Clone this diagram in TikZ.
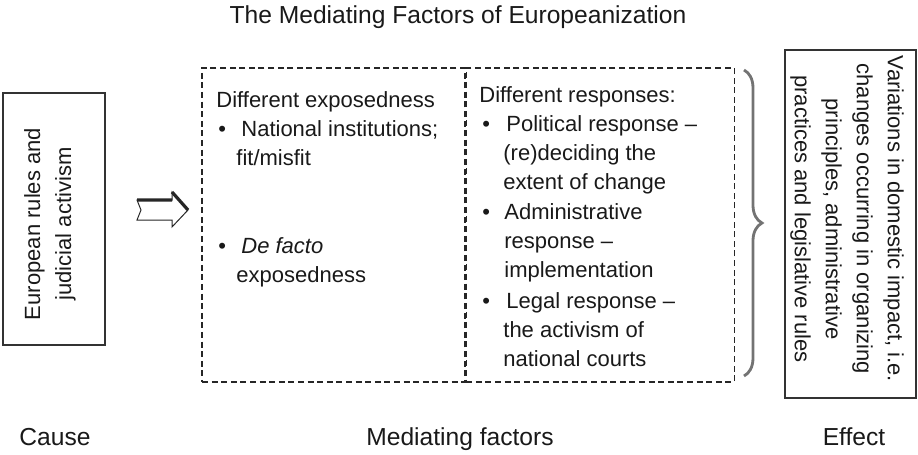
\documentclass[tikz,border=0pt]{standalone}
\usepackage{fontspec}
\setmainfont{Liberation Sans}
\usepackage{tikz}
\usetikzlibrary{positioning}
\usetikzlibrary{decorations.pathreplacing}

\tikzset{
  txt/.style={inner sep=0pt, align=left, text=black!90, font=\fontsize{11}{14.5}\selectfont},
  lbl/.style={inner sep=0pt, text=black!90, font=\fontsize{12.3}{14.5}\selectfont},
  solidbox/.style={draw=black!80, line width=0.6pt, inner sep=0pt},
  boxtxt/.style={align=center, inner sep=0pt, text=black!90, font=\fontsize{11}{15.5}\selectfont},
  panel/.style={draw=black!85, dash pattern=on 3pt off 1.8pt, line width=0.6pt, inner sep=0pt,
    minimum height=157pt},
  curly/.style={decorate, decoration={brace, amplitude=9pt}, draw=black!55, line width=1.4pt},
}

\begin{document}
\begin{tikzpicture}[x=0.5pt, y=-0.5pt]
\useasboundingbox (0,0) rectangle (918,455);

\node[lbl, anchor=base] (title) at (458,24) {The Mediating Factors of Europeanization};

% cause
\node[solidbox, minimum width=51pt, minimum height=126pt] (cause) at (54,219) {};
\node[boxtxt, rotate=90] (causetxt) at (50,224) {European rules and\\judicial activism};

% block arrow
\draw[fill=white, draw=black!85, line width=0.5pt] (137,200) -- (172,200) -- (172,192) -- (188,210)
  -- (172,227) -- (172,220) -- (137,220) -- (141,210) -- cycle;
\draw[black!85, line width=1.6pt] (137,200) -- (172,200) (172,192) -- (188,210);

% mediating factors
\node[panel, minimum width=131.5pt] (expo) at (333.5,225) {};
\node[panel, minimum width=134pt, right=0pt of expo] (resp) {};

\node[txt, anchor=base west] (expohead) at (216,107) {Different exposedness};
\node[txt, anchor=base west] (dot1) at (218,136) {•};
\node[txt, anchor=base west] (inst) at (241,165) {National institutions;\\\kern-2.5pt fit/misfit};
\node[txt, anchor=base west] (dot2) at (218,253) {•};
\node[txt, anchor=base west] (defacto) at (241,282) {\textit{De facto}\\\kern-2.5pt exposedness};

\node[txt, anchor=base west] (resphead) at (479,103) {Different responses:};
\node[txt, anchor=base west] (dot3) at (482,132) {•};
\node[txt, anchor=base west] (polit) at (506,190) {Political response --\\\kern-1.5pt (re)deciding the\\\kern-1.5pt extent of change};
\node[txt, anchor=base west] (dot4) at (482,220) {•};
\node[txt, anchor=base west] (admin) at (504,278) {Administrative\\response --\\implementation};
\node[txt, anchor=base west] (dot5) at (482,308) {•};
\node[txt, anchor=base west] (legal) at (506,366) {Legal response --\\\kern-1.5pt the activism of\\\kern-1.5pt national courts};

% brace
\coordinate (btop) at (744,70);
\coordinate (bbot) at (744,376);
\draw[curly] (btop) -- (bbot);

% effect
\node[solidbox, minimum width=65.5pt, minimum height=174pt] (effect) at (850.5,224) {};
\node[boxtxt, rotate=-90] (effecttxt) at (847,219)
  {Variations in domestic impact, i.e.\\changes occurring in organizing\\principles, administrative\\practices and legislative rules};

\node[lbl, anchor=base] (causelbl) at (55,445) {Cause};
\node[lbl, anchor=base] (medlbl) at (460,445) {Mediating factors};
\node[lbl, anchor=base] (effectlbl) at (854,445) {Effect};
\end{tikzpicture}
\end{document}
